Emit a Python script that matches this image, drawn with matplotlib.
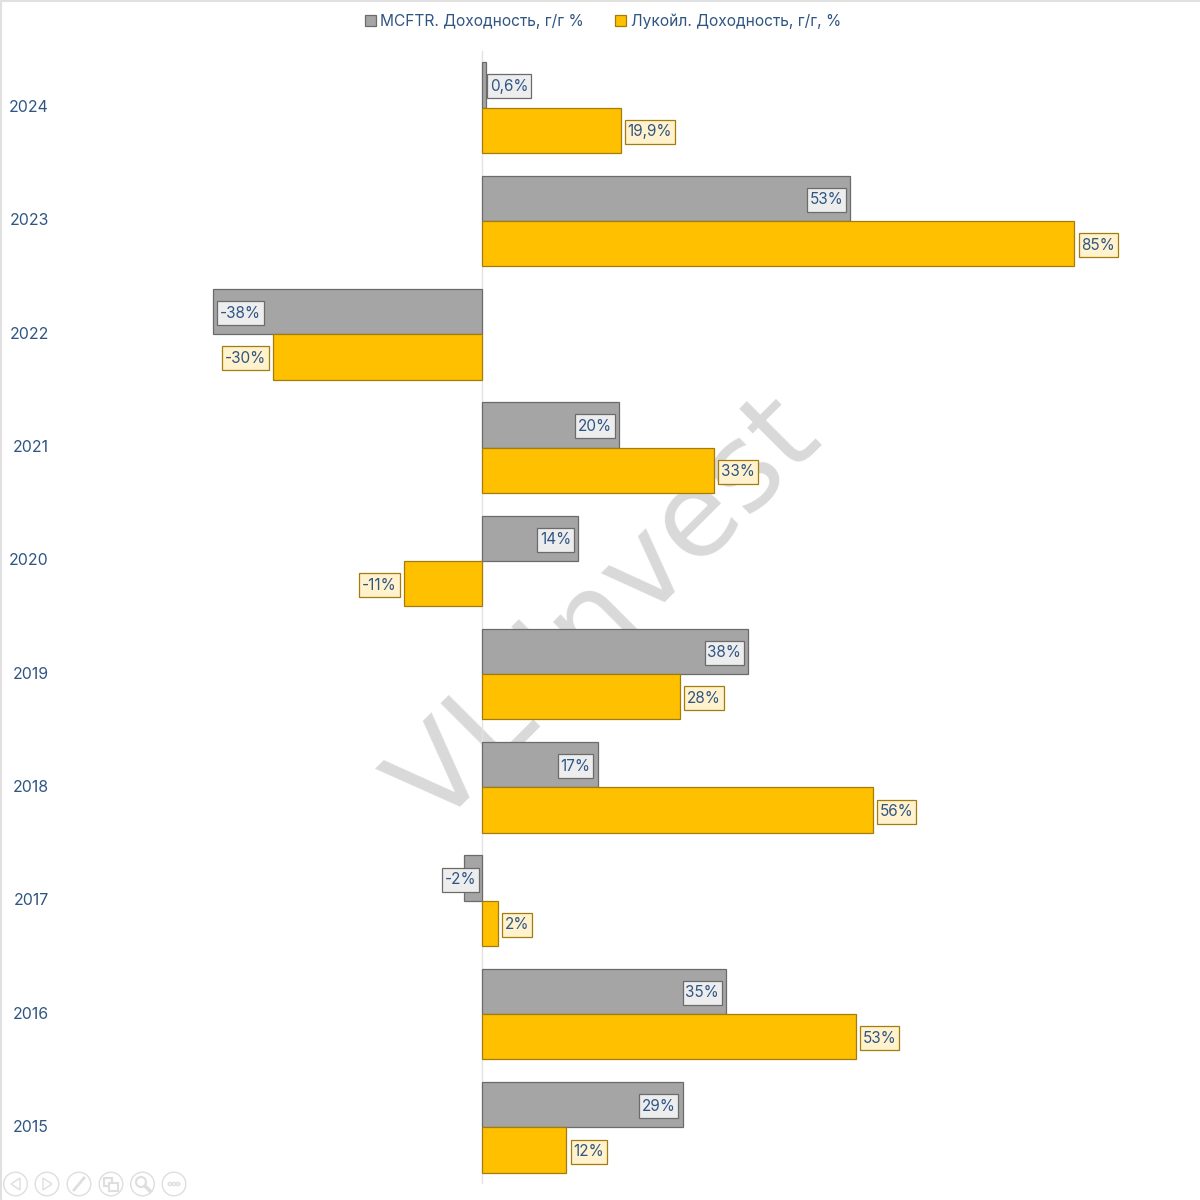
import matplotlib
matplotlib.use("Agg")
import matplotlib.pyplot as plt
from matplotlib.patches import Circle, Polygon, Rectangle
from matplotlib.path import Path
from matplotlib.lines import Line2D
import numpy as np

plt.rcParams['font.family'] = ['Inter', 'DejaVu Sans']

# Данные
years = ['2024', '2023', '2022', '2021', '2020', '2019', '2018', '2017', '2016', '2015']
mcftr = [0.6, 52.8, -38.6, 19.7, 13.8, 38.2, 16.6, -2.6, 35.0, 28.8]
lukoil = [19.9, 85.0, -30.0, 33.3, -11.2, 28.4, 56.1, 2.3, 53.6, 12.1]
mcftr_labels = ['0,6%', '53%', '-38%', '20%', '14%', '38%', '17%', '-2%', '35%', '29%']
lukoil_labels = ['19,9%', '85%', '-30%', '33%', '-11%', '28%', '56%', '2%', '53%', '12%']
legend_names = ['MCFTR. Доходность, г/г %', 'Лукойл. Доходность, г/г, %']

TEXT = '#2F5583'
GRAY, GRAY_EDGE, GRAY_BOX = '#A5A5A5', '#6B6B6B', '#EDEDED'
GOLD, GOLD_EDGE, GOLD_BOX = '#FFC000', '#A27C0C', '#FFF2CC'
ICON = '#DEDEDE'

fig = plt.figure(figsize=(12, 12), dpi=100)

# Оси на всю ширину: ноль на x=482 px, ряды от y=51 до y=1184 px
ax = fig.add_axes([0, 16 / 1200, 1, 1133 / 1200])
ax.set_xlim(-482 / 6.97, 718 / 6.97)
y = np.arange(len(years))
ax.set_ylim(len(years) - 0.5, -0.5)
ax.axis('off')
ax.patch.set_alpha(0)

ax.text(18.0, 4.46, 'VL invest', rotation=45, rotation_mode='anchor', ha='center', va='center',
        fontsize=86, color='#D9D9D9', zorder=1, family='DejaVu Sans')
ax.axvline(0, color='#E3E3E3', lw=1, zorder=1.5)

h = 0.4
bars1 = ax.barh(y - h / 2, mcftr, h, color=GRAY, edgecolor=GRAY_EDGE, lw=0.9, zorder=2, label=legend_names[0])
bars2 = ax.barh(y + h / 2, lukoil, h, color=GOLD, edgecolor=GOLD_EDGE, lw=0.9, zorder=2, label=legend_names[1])


def label_box(x0, y0, w, h, mutation_size=None):
    # рамка подписи: по бокам поля меньше, чем сверху и снизу
    x0, x1 = x0 - 2.7, x0 + w + 2.7
    y0, y1 = y0 - 4.5, y0 + h + 4.5
    return Path([(x0, y0), (x1, y0), (x1, y1), (x0, y1), (x0, y0)], closed=True)


def put_label(val, ypos, text, inside, face, edge, off_px=7):
    sign = 1 if val >= 0 else -1
    off = -off_px * sign if inside else off_px * sign
    ha = 'left' if off > 0 else 'right'
    ax.annotate(text, (val, ypos), xytext=(off * 0.72, 0), textcoords='offset points', ha=ha, va='center_baseline',
                fontsize=11, color=TEXT, zorder=3,
                bbox=dict(boxstyle=label_box, fc=face, ec=edge, lw=0.9))


for i in y:
    if mcftr_labels[i] == '-2%':
        # маленький столбец: подпись от нуля, поверх столбца
        put_label(0, i - h / 2, mcftr_labels[i], True, GRAY_BOX, GRAY_EDGE, off_px=6)
    elif mcftr_labels[i] == '0,6%':
        put_label(mcftr[i], i - h / 2, mcftr_labels[i], False, GRAY_BOX, GRAY_EDGE, off_px=4)
    else:
        put_label(mcftr[i], i - h / 2, mcftr_labels[i], True, GRAY_BOX, GRAY_EDGE)
    put_label(lukoil[i], i + h / 2, lukoil_labels[i], False, GOLD_BOX, GOLD_EDGE)
    ax.annotate(years[i], (0, i), xycoords=('figure fraction', 'data'), xytext=(49 * 0.72, 0),
                textcoords='offset points', ha='right', va='center', fontsize=11.4, color=TEXT)

fig.legend(handles=[Rectangle((0, 0), 1, 1, fc=GRAY, ec=GRAY_EDGE, lw=0.9),
                    Rectangle((0, 0), 1, 1, fc=GOLD, ec=GOLD_EDGE, lw=0.9)],
           labels=legend_names, loc='center', bbox_to_anchor=(603 / 1200, 1 - 21 / 1200), ncol=2, frameon=False,
           fontsize=11.2, labelcolor=TEXT, handlelength=0.68, handleheight=0.68, handletextpad=0.3, columnspacing=2.0)

# Рамка и кнопки просмотрщика в пикселях
ov = fig.add_axes([0, 0, 1, 1], zorder=5)
ov.set_xlim(0, 1200)
ov.set_ylim(1200, 0)
ov.axis('off')
ov.patch.set_alpha(0)
ov.plot([0.5, 0.5], [0, 1200], color='#E0E0E0', lw=1.5)
ov.plot([0, 1200], [0.5, 0.5], color='#E0E0E0', lw=1.5)

centers = [15.5, 47, 79, 111, 142.5, 174]
for cx in centers:
    ov.add_patch(Circle((cx, 1184), 11.8, fc='white', ec=ICON, lw=1))
ov.add_patch(Polygon([(20, 1178), (20, 1190), (11, 1184)], fc='none', ec=ICON, lw=1))
ov.add_patch(Polygon([(43, 1178), (43, 1190), (52, 1184)], fc='none', ec=ICON, lw=1))
ov.add_line(Line2D([74, 84], [1190, 1178], color=ICON, lw=2))
ov.add_patch(Rectangle((104, 1178), 8, 8, fc='none', ec=ICON, lw=1.5))
ov.add_patch(Rectangle((109, 1183), 9, 8, fc='white', ec=ICON, lw=1.5))
ov.add_patch(Circle((141, 1182), 5, fc='none', ec=ICON, lw=1.5))
ov.add_line(Line2D([145, 150], [1186, 1191], color=ICON, lw=2.5))
for dx in (-4, 0, 4):
    ov.add_patch(Circle((174 + dx, 1184), 1.6, fc='none', ec=ICON, lw=1))

plt.savefig('out.png', dpi=100)
